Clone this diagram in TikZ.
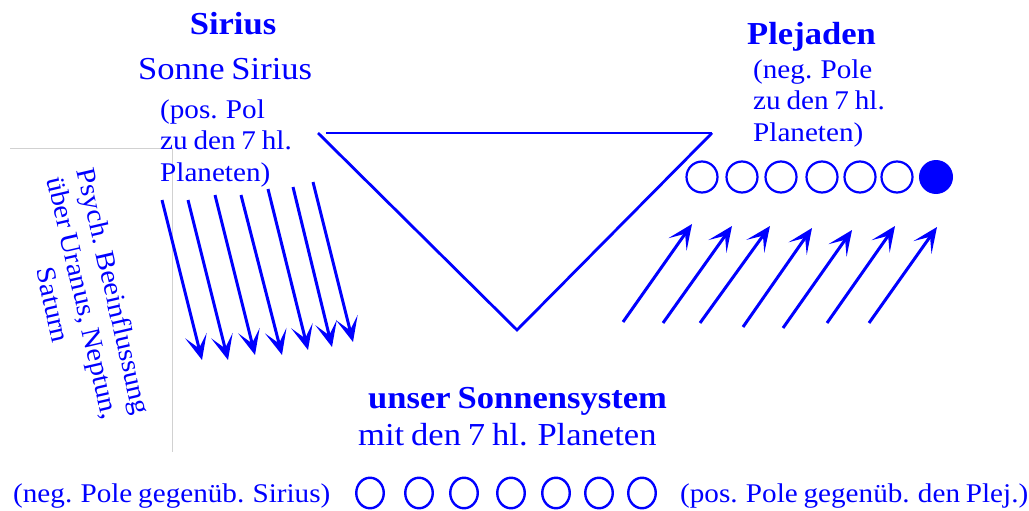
\documentclass[tikz,border=0pt]{standalone}
\usepackage{fontspec}
\setmainfont[FakeStretch=1.08,WordSpace=0.8]{Liberation Serif}
\usetikzlibrary{arrows.meta,shapes.geometric}
\definecolor{bl}{RGB}{0,0,255}
\begin{document}
\begin{tikzpicture}[x=1pt,y=-1pt,
  txt/.style={text=bl, inner sep=0pt, anchor=base west, font=\fontsize{27}{31}\selectfont},
  big/.style={txt, font=\fontsize{32}{36}\selectfont},
  bigb/.style={txt, font=\fontsize{32}{36}\selectfont\bfseries},
  ray/.style={draw=bl, line width=3pt, -{Stealth[length=25pt,width=22pt,inset=13pt]}},
  tri/.style={draw=bl, line width=2.8pt, line join=miter},
  ring/.style={circle, draw=bl, line width=2.2pt, minimum size=31pt, inner sep=0pt},
  dot/.style={circle, fill=bl, minimum size=34pt, inner sep=0pt},
  oval/.style={ellipse, draw=bl, line width=2.4pt, minimum width=27.5pt, minimum height=30.5pt, inner sep=0pt},
  frame/.style={draw=black!18, line width=1pt}]
\useasboundingbox (0,0) rectangle (1029,511);
% faint frame lines
\coordinate (f1) at (10,148);
\coordinate (f2) at (172,148);
\coordinate (f3) at (172,452);
\draw[frame] (f1) -- (f2) -- (f3);
% texts Sirius
\node[bigb, anchor=base] (sir) at (233,35) {Sirius};
\node[big] (sonne) at (138,80) {Sonne Sirius};
\node[txt] (pa) at (160,118) {(pos. Pol};
\node[txt] (pb) at (160,149) {zu den 7 hl.};
\node[txt] (pc) at (160,181) {Planeten)};
% Plejaden
\node[bigb] (plej) at (747,45) {Plejaden};
\node[txt] (na) at (753,78) {(neg. Pole};
\node[txt] (nb) at (753,110) {zu den 7 hl.};
\node[txt] (nc) at (753,142) {Planeten)};
% vertical text
\node[text=bl, inner sep=0pt, font=\fontsize{27}{31}\selectfont, align=center, rotate=-77] (psy) at (84,298)
  {Psych. Beeinflussung\\ \"uber Uranus, Neptun,\\ Saturn};
% sun system
\node[bigb] (uns) at (368,408) {unser Sonnensystem};
\node[big] (mit) at (358,445) {mit den 7 hl. Planeten};
\node[txt] (negs) at (13,502) {(neg. Pole gegen\"ub. Sirius)};
\node[txt] (posp) at (680,502) {(pos. Pole gegen\"ub. den Plej.)};
% triangle
\coordinate (tl) at (318,133);
\coordinate (tl2) at (326,133);
\coordinate (tb) at (517,330);
\coordinate (tr) at (712,133);
\draw[tri] (tl) -- (tb) -- (tr);
\draw[tri] (tl2) -- (tr);
% right circles
\foreach \i/\x in {1/702,2/742,3/781,4/822,5/860,6/897}
  \node[ring] (r\i) at (\x,177) {};
\node[dot] (r7) at (936,177) {};
% bottom ovals
\foreach \i/\x in {1/370,2/419,3/464,4/511,5/556,6/599,7/642}
  \node[oval] (o\i) at (\x,493) {};
% left arrows (down)
\foreach \i/\sx/\sy/\ex/\ey in {1/162/200/202/360, 2/188/200/228/360, 3/215/195/255/355, 4/241/195/282/355, 5/268/189/308/350, 6/293/187/332/347, 7/313/182/353/342} {
  \coordinate (ls\i) at (\sx,\sy);
  \coordinate (le\i) at (\ex,\ey);
  \draw[ray] (ls\i) -- (le\i);
}
% right arrows (up)
\foreach \i/\sx/\sy/\ex/\ey in {1/623/322/692/224, 2/663/323/732/226, 3/700/323/770/226, 4/743/327/812/228, 5/783/328/852/230, 6/827/323/895/226, 7/869/323/937/227} {
  \coordinate (rs\i) at (\sx,\sy);
  \coordinate (re\i) at (\ex,\ey);
  \draw[ray] (rs\i) -- (re\i);
}
\end{tikzpicture}
\end{document}
